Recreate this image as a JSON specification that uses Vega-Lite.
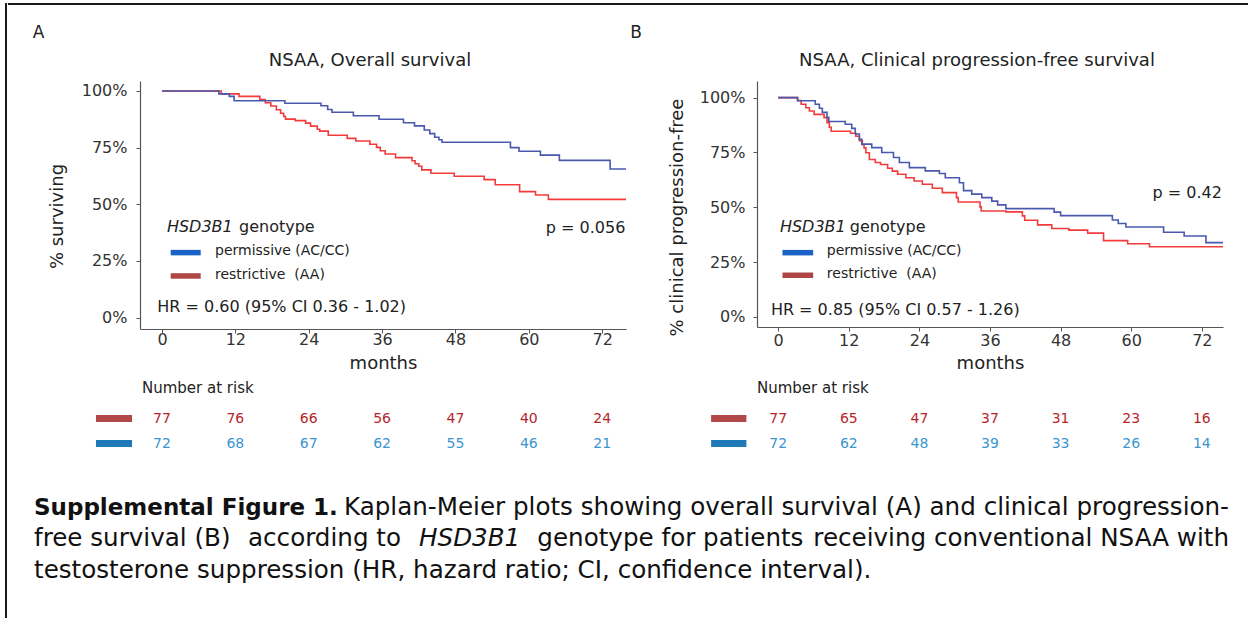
{
  "$schema": "https://vega.github.io/schema/vega-lite/v6.json",
  "padding": {"left": 5, "top": 3, "right": 0, "bottom": 0},
  "background": "white",
  "config": {
    "font": "DejaVu Sans",
    "view": {"stroke": null},
    "axis": {"grid": false, "domainColor": "#555", "tickColor": "#555", "domainWidth": 1.2, "tickWidth": 1, "labelColor": "#333", "titleColor": "#222", "labelFont": "DejaVu Sans", "titleFont": "DejaVu Sans", "titleFontWeight": "normal", "labelFontSize": 16, "titleFontSize": 18, "labelFlush": false, "labelOverlap": false},
    "title": {"font": "DejaVu Sans", "fontWeight": "normal", "color": "#222"},
    "text": {"font": "DejaVu Sans"}
  },
  "datasets": {
    "km": [
      {"panel": "A", "genotype": "permissive", "month": 0, "surv": 100},
      {"panel": "A", "genotype": "permissive", "month": 9.3, "surv": 98.7},
      {"panel": "A", "genotype": "permissive", "month": 11.0, "surv": 97.6},
      {"panel": "A", "genotype": "permissive", "month": 11.8, "surv": 95.7},
      {"panel": "A", "genotype": "permissive", "month": 20.1, "surv": 94.6},
      {"panel": "A", "genotype": "permissive", "month": 26.0, "surv": 93.5},
      {"panel": "A", "genotype": "permissive", "month": 27.1, "surv": 91.8},
      {"panel": "A", "genotype": "permissive", "month": 27.8, "surv": 90.6},
      {"panel": "A", "genotype": "permissive", "month": 31.3, "surv": 89.1},
      {"panel": "A", "genotype": "permissive", "month": 35.5, "surv": 87.5},
      {"panel": "A", "genotype": "permissive", "month": 39.5, "surv": 86.0},
      {"panel": "A", "genotype": "permissive", "month": 41.3, "surv": 84.6},
      {"panel": "A", "genotype": "permissive", "month": 42.9, "surv": 82.8},
      {"panel": "A", "genotype": "permissive", "month": 43.8, "surv": 81.2},
      {"panel": "A", "genotype": "permissive", "month": 44.6, "surv": 79.6},
      {"panel": "A", "genotype": "permissive", "month": 45.3, "surv": 78.5},
      {"panel": "A", "genotype": "permissive", "month": 45.8, "surv": 77.4},
      {"panel": "A", "genotype": "permissive", "month": 57.0, "surv": 75.0},
      {"panel": "A", "genotype": "permissive", "month": 58.4, "surv": 73.4},
      {"panel": "A", "genotype": "permissive", "month": 61.9, "surv": 71.7},
      {"panel": "A", "genotype": "permissive", "month": 65.0, "surv": 69.4},
      {"panel": "A", "genotype": "permissive", "month": 73.3, "surv": 65.6},
      {"panel": "A", "genotype": "permissive", "month": 75.9, "surv": 65.6},
      {"panel": "A", "genotype": "restrictive", "month": 0, "surv": 100},
      {"panel": "A", "genotype": "restrictive", "month": 9.7, "surv": 98.7},
      {"panel": "A", "genotype": "restrictive", "month": 12.6, "surv": 97.6},
      {"panel": "A", "genotype": "restrictive", "month": 16.0, "surv": 96.2},
      {"panel": "A", "genotype": "restrictive", "month": 16.9, "surv": 94.8},
      {"panel": "A", "genotype": "restrictive", "month": 17.8, "surv": 93.4},
      {"panel": "A", "genotype": "restrictive", "month": 18.7, "surv": 91.7},
      {"panel": "A", "genotype": "restrictive", "month": 19.4, "surv": 90.2},
      {"panel": "A", "genotype": "restrictive", "month": 19.9, "surv": 88.8},
      {"panel": "A", "genotype": "restrictive", "month": 20.2, "surv": 87.6},
      {"panel": "A", "genotype": "restrictive", "month": 21.8, "surv": 86.9},
      {"panel": "A", "genotype": "restrictive", "month": 23.5, "surv": 85.8},
      {"panel": "A", "genotype": "restrictive", "month": 24.3, "surv": 84.5},
      {"panel": "A", "genotype": "restrictive", "month": 25.4, "surv": 83.1},
      {"panel": "A", "genotype": "restrictive", "month": 25.8, "surv": 82.3},
      {"panel": "A", "genotype": "restrictive", "month": 27.2, "surv": 80.5},
      {"panel": "A", "genotype": "restrictive", "month": 30.3, "surv": 79.1},
      {"panel": "A", "genotype": "restrictive", "month": 31.7, "surv": 77.9},
      {"panel": "A", "genotype": "restrictive", "month": 34.0, "surv": 76.5},
      {"panel": "A", "genotype": "restrictive", "month": 35.1, "surv": 75.1},
      {"panel": "A", "genotype": "restrictive", "month": 35.7, "surv": 73.6},
      {"panel": "A", "genotype": "restrictive", "month": 36.5, "surv": 72.2},
      {"panel": "A", "genotype": "restrictive", "month": 38.2, "surv": 70.6},
      {"panel": "A", "genotype": "restrictive", "month": 40.9, "surv": 69.2},
      {"panel": "A", "genotype": "restrictive", "month": 41.4, "surv": 67.9},
      {"panel": "A", "genotype": "restrictive", "month": 42.0, "surv": 66.8},
      {"panel": "A", "genotype": "restrictive", "month": 42.5, "surv": 65.2},
      {"panel": "A", "genotype": "restrictive", "month": 44.0, "surv": 63.7},
      {"panel": "A", "genotype": "restrictive", "month": 47.8, "surv": 62.4},
      {"panel": "A", "genotype": "restrictive", "month": 52.7, "surv": 60.9},
      {"panel": "A", "genotype": "restrictive", "month": 54.5, "surv": 58.6},
      {"panel": "A", "genotype": "restrictive", "month": 58.5, "surv": 55.6},
      {"panel": "A", "genotype": "restrictive", "month": 61.1, "surv": 54.1},
      {"panel": "A", "genotype": "restrictive", "month": 63.2, "surv": 52.2},
      {"panel": "A", "genotype": "restrictive", "month": 75.9, "surv": 52.2},
      {"panel": "B", "genotype": "permissive", "month": 0, "surv": 100},
      {"panel": "B", "genotype": "permissive", "month": 3.3, "surv": 98.6},
      {"panel": "B", "genotype": "permissive", "month": 6.3, "surv": 97.0},
      {"panel": "B", "genotype": "permissive", "month": 7.0, "surv": 95.2},
      {"panel": "B", "genotype": "permissive", "month": 7.5, "surv": 93.3},
      {"panel": "B", "genotype": "permissive", "month": 8.3, "surv": 91.0},
      {"panel": "B", "genotype": "permissive", "month": 8.6, "surv": 89.1},
      {"panel": "B", "genotype": "permissive", "month": 11.4, "surv": 87.9},
      {"panel": "B", "genotype": "permissive", "month": 12.5, "surv": 86.0},
      {"panel": "B", "genotype": "permissive", "month": 13.1, "surv": 83.4},
      {"panel": "B", "genotype": "permissive", "month": 13.8, "surv": 81.0},
      {"panel": "B", "genotype": "permissive", "month": 14.2, "surv": 78.8},
      {"panel": "B", "genotype": "permissive", "month": 15.9, "surv": 77.2},
      {"panel": "B", "genotype": "permissive", "month": 17.6, "surv": 75.0},
      {"panel": "B", "genotype": "permissive", "month": 19.6, "surv": 72.7},
      {"panel": "B", "genotype": "permissive", "month": 20.6, "surv": 70.4},
      {"panel": "B", "genotype": "permissive", "month": 22.3, "surv": 68.1},
      {"panel": "B", "genotype": "permissive", "month": 25.0, "surv": 66.6},
      {"panel": "B", "genotype": "permissive", "month": 27.4, "surv": 65.4},
      {"panel": "B", "genotype": "permissive", "month": 28.4, "surv": 63.5},
      {"panel": "B", "genotype": "permissive", "month": 30.8, "surv": 61.2},
      {"panel": "B", "genotype": "permissive", "month": 31.5, "surv": 57.6},
      {"panel": "B", "genotype": "permissive", "month": 32.9, "surv": 56.0},
      {"panel": "B", "genotype": "permissive", "month": 34.6, "surv": 54.4},
      {"panel": "B", "genotype": "permissive", "month": 36.3, "surv": 52.8},
      {"panel": "B", "genotype": "permissive", "month": 37.3, "surv": 51.1},
      {"panel": "B", "genotype": "permissive", "month": 38.7, "surv": 49.4},
      {"panel": "B", "genotype": "permissive", "month": 46.9, "surv": 47.8},
      {"panel": "B", "genotype": "permissive", "month": 48.0, "surv": 46.2},
      {"panel": "B", "genotype": "permissive", "month": 56.8, "surv": 44.2},
      {"panel": "B", "genotype": "permissive", "month": 57.8, "surv": 42.6},
      {"panel": "B", "genotype": "permissive", "month": 59.1, "surv": 41.0},
      {"panel": "B", "genotype": "permissive", "month": 65.5, "surv": 38.6},
      {"panel": "B", "genotype": "permissive", "month": 69.0, "surv": 36.9},
      {"panel": "B", "genotype": "permissive", "month": 72.7, "surv": 33.9},
      {"panel": "B", "genotype": "permissive", "month": 75.6, "surv": 33.9},
      {"panel": "B", "genotype": "restrictive", "month": 0, "surv": 100},
      {"panel": "B", "genotype": "restrictive", "month": 3.3, "surv": 98.7},
      {"panel": "B", "genotype": "restrictive", "month": 3.9, "surv": 97.0},
      {"panel": "B", "genotype": "restrictive", "month": 4.7, "surv": 95.4},
      {"panel": "B", "genotype": "restrictive", "month": 5.3, "surv": 93.9},
      {"panel": "B", "genotype": "restrictive", "month": 6.1, "surv": 92.4},
      {"panel": "B", "genotype": "restrictive", "month": 7.8, "surv": 90.9},
      {"panel": "B", "genotype": "restrictive", "month": 8.3, "surv": 88.6},
      {"panel": "B", "genotype": "restrictive", "month": 8.7, "surv": 86.5},
      {"panel": "B", "genotype": "restrictive", "month": 9.0, "surv": 84.7},
      {"panel": "B", "genotype": "restrictive", "month": 12.3, "surv": 83.8},
      {"panel": "B", "genotype": "restrictive", "month": 13.2, "surv": 82.4},
      {"panel": "B", "genotype": "restrictive", "month": 13.8, "surv": 80.4},
      {"panel": "B", "genotype": "restrictive", "month": 14.3, "surv": 78.5},
      {"panel": "B", "genotype": "restrictive", "month": 14.6, "surv": 77.1},
      {"panel": "B", "genotype": "restrictive", "month": 14.9, "surv": 74.9},
      {"panel": "B", "genotype": "restrictive", "month": 15.5, "surv": 71.8},
      {"panel": "B", "genotype": "restrictive", "month": 16.5, "surv": 70.4},
      {"panel": "B", "genotype": "restrictive", "month": 17.4, "surv": 69.5},
      {"panel": "B", "genotype": "restrictive", "month": 18.6, "surv": 67.8},
      {"panel": "B", "genotype": "restrictive", "month": 19.4, "surv": 66.5},
      {"panel": "B", "genotype": "restrictive", "month": 20.3, "surv": 65.1},
      {"panel": "B", "genotype": "restrictive", "month": 21.7, "surv": 63.5},
      {"panel": "B", "genotype": "restrictive", "month": 23.1, "surv": 62.0},
      {"panel": "B", "genotype": "restrictive", "month": 24.5, "surv": 60.5},
      {"panel": "B", "genotype": "restrictive", "month": 26.2, "surv": 58.7},
      {"panel": "B", "genotype": "restrictive", "month": 27.9, "surv": 56.7},
      {"panel": "B", "genotype": "restrictive", "month": 30.3, "surv": 54.4},
      {"panel": "B", "genotype": "restrictive", "month": 30.6, "surv": 52.4},
      {"panel": "B", "genotype": "restrictive", "month": 34.3, "surv": 50.2},
      {"panel": "B", "genotype": "restrictive", "month": 34.5, "surv": 48.3},
      {"panel": "B", "genotype": "restrictive", "month": 38.7, "surv": 47.9},
      {"panel": "B", "genotype": "restrictive", "month": 41.5, "surv": 46.1},
      {"panel": "B", "genotype": "restrictive", "month": 41.9, "surv": 44.1},
      {"panel": "B", "genotype": "restrictive", "month": 44.1, "surv": 42.0},
      {"panel": "B", "genotype": "restrictive", "month": 46.5, "surv": 40.3},
      {"panel": "B", "genotype": "restrictive", "month": 49.4, "surv": 39.6},
      {"panel": "B", "genotype": "restrictive", "month": 52.6, "surv": 38.2},
      {"panel": "B", "genotype": "restrictive", "month": 55.3, "surv": 34.8},
      {"panel": "B", "genotype": "restrictive", "month": 59.4, "surv": 33.4},
      {"panel": "B", "genotype": "restrictive", "month": 63.1, "surv": 32.0},
      {"panel": "B", "genotype": "restrictive", "month": 75.6, "surv": 32.0}
    ],
    "risk": [
      {"panel": "A", "genotype": "restrictive", "month": 0, "n": 77},
      {"panel": "A", "genotype": "restrictive", "month": 12, "n": 76},
      {"panel": "A", "genotype": "restrictive", "month": 24, "n": 66},
      {"panel": "A", "genotype": "restrictive", "month": 36, "n": 56},
      {"panel": "A", "genotype": "restrictive", "month": 48, "n": 47},
      {"panel": "A", "genotype": "restrictive", "month": 60, "n": 40},
      {"panel": "A", "genotype": "restrictive", "month": 72, "n": 24},
      {"panel": "A", "genotype": "permissive", "month": 0, "n": 72},
      {"panel": "A", "genotype": "permissive", "month": 12, "n": 68},
      {"panel": "A", "genotype": "permissive", "month": 24, "n": 67},
      {"panel": "A", "genotype": "permissive", "month": 36, "n": 62},
      {"panel": "A", "genotype": "permissive", "month": 48, "n": 55},
      {"panel": "A", "genotype": "permissive", "month": 60, "n": 46},
      {"panel": "A", "genotype": "permissive", "month": 72, "n": 21},
      {"panel": "B", "genotype": "restrictive", "month": 0, "n": 77},
      {"panel": "B", "genotype": "restrictive", "month": 12, "n": 65},
      {"panel": "B", "genotype": "restrictive", "month": 24, "n": 47},
      {"panel": "B", "genotype": "restrictive", "month": 36, "n": 37},
      {"panel": "B", "genotype": "restrictive", "month": 48, "n": 31},
      {"panel": "B", "genotype": "restrictive", "month": 60, "n": 23},
      {"panel": "B", "genotype": "restrictive", "month": 72, "n": 16},
      {"panel": "B", "genotype": "permissive", "month": 0, "n": 72},
      {"panel": "B", "genotype": "permissive", "month": 12, "n": 62},
      {"panel": "B", "genotype": "permissive", "month": 24, "n": 48},
      {"panel": "B", "genotype": "permissive", "month": 36, "n": 39},
      {"panel": "B", "genotype": "permissive", "month": 48, "n": 33},
      {"panel": "B", "genotype": "permissive", "month": 60, "n": 26},
      {"panel": "B", "genotype": "permissive", "month": 72, "n": 14}
    ]
  },
  "spacing": 0,
  "hconcat": [
    {"width": 0.01, "height": 614, "view": {"stroke": "#1a1a1a", "strokeWidth": 2}, "data": {"values": []}, "mark": {"type": "rule"}, "encoding": {}},
    {
      "spacing": 17,
      "vconcat": [
        {"width": 1240, "height": 0.01, "view": {"stroke": "#1a1a1a", "strokeWidth": 2}, "data": {"values": []}, "mark": {"type": "rule"}, "encoding": {}},
        {
          "spacing": 36,
          "vconcat": [
            {
              "spacing": 0,
              "hconcat": [
                {"width": 23, "height": 1, "data": {"values": []}, "mark": {"type": "rule"}, "encoding": {}},
                {
                  "spacing": 0,
                  "hconcat": [
                    {
                      "title": {"text": "A", "anchor": "start", "frame": "bounds", "dx": -15.5, "offset": -3.2, "fontSize": 17, "baseline": "alphabetic"},
                      "spacing": 9,
                      "vconcat": [
                        {
                          "width": 486, "height": 248,
                          "title": {"text": "NSAA, Overall survival", "fontSize": 18, "anchor": "middle", "frame": "group", "dx": -13, "offset": -2.5, "baseline": "alphabetic"},
                          "layer": [
                            {"data": {"name": "km"}, "transform": [{"filter": "datum.panel == 'A' && datum.genotype == 'restrictive'"}], "mark": {"type": "line", "interpolate": "step-after", "color": "#f23b3b", "strokeWidth": 1.6},
                             "encoding": {
                               "x": {"field": "month", "type": "quantitative", "scale": {"domain": [-3.6, 75.9], "nice": false, "zero": false}, "axis": {"values": [0, 12, 24, 36, 48, 60, 72], "title": "months", "tickSize": 4, "labelPadding": -2, "titlePadding": 7}},
                               "y": {"field": "surv", "type": "quantitative", "scale": {"domain": [-5, 104.4], "nice": false, "zero": false}, "axis": {"values": [0, 25, 50, 75, 100], "labelExpr": "datum.value + '%'", "title": "% surviving", "tickSize": 4, "labelPadding": 9, "titlePadding": 15, "titleY": 135}}
                             }},
                            {"data": {"name": "km"}, "transform": [{"filter": "datum.panel == 'A' && datum.genotype == 'permissive'"}], "mark": {"type": "line", "interpolate": "step-after", "color": "#4a58ad", "strokeWidth": 1.6},
                             "encoding": {
                               "x": {"field": "month", "type": "quantitative", "scale": {"domain": [-3.6, 75.9], "nice": false, "zero": false}},
                               "y": {"field": "surv", "type": "quantitative", "scale": {"domain": [-5, 104.4], "nice": false, "zero": false}}
                             }},
                            {"data": {"values": [{}]}, "mark": {"type": "text", "text": "HSD3B1", "fontStyle": "italic", "fontSize": 16, "align": "left", "baseline": "middle", "color": "#222"}, "encoding": {"x": {"datum": 0.8, "type": "quantitative", "scale": {"domain": [-3.6, 75.9], "nice": false, "zero": false}}, "y": {"datum": 40.0, "type": "quantitative", "scale": {"domain": [-5, 104.4], "nice": false, "zero": false}}}},
                            {"data": {"values": [{}]}, "mark": {"type": "text", "text": "genotype", "fontSize": 16, "align": "left", "baseline": "middle", "color": "#222"}, "encoding": {"x": {"datum": 12.6, "type": "quantitative", "scale": {"domain": [-3.6, 75.9], "nice": false, "zero": false}}, "y": {"datum": 40.0, "type": "quantitative", "scale": {"domain": [-5, 104.4], "nice": false, "zero": false}}}},
                            {"data": {"values": [{}]}, "mark": {"type": "rule", "strokeWidth": 5.5, "color": "#1b62c6", "strokeCap": "butt"}, "encoding": {"x": {"datum": 1.42, "type": "quantitative", "scale": {"domain": [-3.6, 75.9], "nice": false, "zero": false}}, "x2": {"datum": 6.33}, "y": {"datum": 28.7, "type": "quantitative", "scale": {"domain": [-5, 104.4], "nice": false, "zero": false}}}},
                            {"data": {"values": [{}]}, "mark": {"type": "rule", "strokeWidth": 5.5, "color": "#b04545", "strokeCap": "butt"}, "encoding": {"x": {"datum": 1.42, "type": "quantitative", "scale": {"domain": [-3.6, 75.9], "nice": false, "zero": false}}, "x2": {"datum": 6.33}, "y": {"datum": 18.4, "type": "quantitative", "scale": {"domain": [-5, 104.4], "nice": false, "zero": false}}}},
                            {"data": {"values": [{}]}, "mark": {"type": "text", "text": "permissive (AC/CC)", "fontSize": 14, "align": "left", "baseline": "middle", "color": "#222"}, "encoding": {"x": {"datum": 8.67, "type": "quantitative", "scale": {"domain": [-3.6, 75.9], "nice": false, "zero": false}}, "y": {"datum": 29.4, "type": "quantitative", "scale": {"domain": [-5, 104.4], "nice": false, "zero": false}}}},
                            {"data": {"values": [{}]}, "mark": {"type": "text", "text": "restrictive\u00a0 (AA)", "fontSize": 14, "align": "left", "baseline": "middle", "color": "#222"}, "encoding": {"x": {"datum": 8.67, "type": "quantitative", "scale": {"domain": [-3.6, 75.9], "nice": false, "zero": false}}, "y": {"datum": 18.8, "type": "quantitative", "scale": {"domain": [-5, 104.4], "nice": false, "zero": false}}}},
                            {"data": {"values": [{}]}, "mark": {"type": "text", "text": "HR = 0.60 (95% CI 0.36 - 1.02)", "fontSize": 16, "align": "left", "baseline": "middle", "color": "#222"}, "encoding": {"x": {"datum": -0.77, "type": "quantitative", "scale": {"domain": [-3.6, 75.9], "nice": false, "zero": false}}, "y": {"datum": 4.7, "type": "quantitative", "scale": {"domain": [-5, 104.4], "nice": false, "zero": false}}}},
                            {"data": {"values": [{}]}, "mark": {"type": "text", "text": "p = 0.056", "fontSize": 16, "align": "right", "baseline": "middle", "color": "#222"}, "encoding": {"x": {"datum": 75.8, "type": "quantitative", "scale": {"domain": [-3.6, 75.9], "nice": false, "zero": false}}, "y": {"datum": 39.4, "type": "quantitative", "scale": {"domain": [-5, 104.4], "nice": false, "zero": false}}}}
                          ]
                        },
                        {
                          "width": 486, "height": 50,
                          "title": {"text": "Number at risk", "anchor": "start", "frame": "group", "dx": 2, "offset": -2, "fontSize": 15, "baseline": "alphabetic"},
                          "layer": [
                            {"data": {"name": "risk"}, "transform": [{"filter": "datum.panel == 'A'"}], "mark": {"type": "text", "fontSize": 14, "baseline": "middle"},
                             "encoding": {
                               "x": {"field": "month", "type": "quantitative", "scale": {"domain": [-3.6, 75.9], "nice": false, "zero": false}, "axis": null},
                               "y": {"field": "genotype", "type": "nominal", "scale": {"domain": ["restrictive", "permissive"]}, "axis": null},
                               "text": {"field": "n"},
                               "color": {"field": "genotype", "type": "nominal", "scale": {"domain": ["restrictive", "permissive"], "range": ["#b5262b", "#3b95cf"]}, "legend": null}
                             }},
                            {"data": {"values": [{}]}, "mark": {"type": "rule", "strokeWidth": 7, "color": "#b24848", "strokeCap": "butt"}, "encoding": {"x": {"datum": -10.8, "type": "quantitative", "scale": {"domain": [-3.6, 75.9], "nice": false, "zero": false}, "axis": null}, "x2": {"datum": -4.9}, "y": {"datum": "restrictive", "type": "nominal", "scale": {"domain": ["restrictive", "permissive"]}, "axis": null}}},
                            {"data": {"values": [{}]}, "mark": {"type": "rule", "strokeWidth": 7, "color": "#1f78b8", "strokeCap": "butt"}, "encoding": {"x": {"datum": -10.8, "type": "quantitative", "scale": {"domain": [-3.6, 75.9], "nice": false, "zero": false}, "axis": null}, "x2": {"datum": -4.9}, "y": {"datum": "permissive", "type": "nominal", "scale": {"domain": ["restrictive", "permissive"]}, "axis": null}}}
                          ]
                        }
                      ]
                    },
                    {
                      "title": {"text": "B", "anchor": "start", "frame": "bounds", "dx": -38, "offset": -3.2, "fontSize": 17, "baseline": "alphabetic"},
                      "spacing": 9,
                      "vconcat": [
                        {
                          "width": 466, "height": 246,
                          "title": {"text": "NSAA, Clinical progression-free survival", "fontSize": 18, "anchor": "middle", "frame": "group", "dx": -13, "offset": -2.5, "baseline": "alphabetic"},
                          "layer": [
                            {"data": {"name": "km"}, "transform": [{"filter": "datum.panel == 'B' && datum.genotype == 'restrictive'"}], "mark": {"type": "line", "interpolate": "step-after", "color": "#f23b3b", "strokeWidth": 1.6},
                             "encoding": {
                               "x": {"field": "month", "type": "quantitative", "scale": {"domain": [-3.6, 75.6], "nice": false, "zero": false}, "axis": {"values": [0, 12, 24, 36, 48, 60, 72], "title": "months", "tickSize": 4, "labelPadding": 1.5, "titlePadding": 5.5}},
                               "y": {"field": "surv", "type": "quantitative", "scale": {"domain": [-4.6, 107.6], "nice": false, "zero": false}, "axis": {"values": [0, 25, 50, 75, 100], "labelExpr": "datum.value + '%'", "title": "% clinical progression-free", "titleFontSize": 18, "tickSize": 4, "labelPadding": 8, "titlePadding": 13, "titleY": 136}}
                             }},
                            {"data": {"name": "km"}, "transform": [{"filter": "datum.panel == 'B' && datum.genotype == 'permissive'"}], "mark": {"type": "line", "interpolate": "step-after", "color": "#4a58ad", "strokeWidth": 1.6},
                             "encoding": {
                               "x": {"field": "month", "type": "quantitative", "scale": {"domain": [-3.6, 75.6], "nice": false, "zero": false}},
                               "y": {"field": "surv", "type": "quantitative", "scale": {"domain": [-4.6, 107.6], "nice": false, "zero": false}}
                             }},
                            {"data": {"values": [{}]}, "mark": {"type": "text", "text": "HSD3B1", "fontStyle": "italic", "fontSize": 16, "align": "left", "baseline": "middle", "color": "#222"}, "encoding": {"x": {"datum": 0.29, "type": "quantitative", "scale": {"domain": [-3.6, 75.6], "nice": false, "zero": false}}, "y": {"datum": 41.2, "type": "quantitative", "scale": {"domain": [-4.6, 107.6], "nice": false, "zero": false}}}},
                            {"data": {"values": [{}]}, "mark": {"type": "text", "text": "genotype", "fontSize": 16, "align": "left", "baseline": "middle", "color": "#222"}, "encoding": {"x": {"datum": 12.18, "type": "quantitative", "scale": {"domain": [-3.6, 75.6], "nice": false, "zero": false}}, "y": {"datum": 41.2, "type": "quantitative", "scale": {"domain": [-4.6, 107.6], "nice": false, "zero": false}}}},
                            {"data": {"values": [{}]}, "mark": {"type": "rule", "strokeWidth": 5.5, "color": "#1b62c6", "strokeCap": "butt"}, "encoding": {"x": {"datum": 0.73, "type": "quantitative", "scale": {"domain": [-3.6, 75.6], "nice": false, "zero": false}}, "x2": {"datum": 5.95}, "y": {"datum": 29.3, "type": "quantitative", "scale": {"domain": [-4.6, 107.6], "nice": false, "zero": false}}}},
                            {"data": {"values": [{}]}, "mark": {"type": "rule", "strokeWidth": 5.5, "color": "#b04545", "strokeCap": "butt"}, "encoding": {"x": {"datum": 0.73, "type": "quantitative", "scale": {"domain": [-3.6, 75.6], "nice": false, "zero": false}}, "x2": {"datum": 5.95}, "y": {"datum": 19.0, "type": "quantitative", "scale": {"domain": [-4.6, 107.6], "nice": false, "zero": false}}}},
                            {"data": {"values": [{}]}, "mark": {"type": "text", "text": "permissive (AC/CC)", "fontSize": 14, "align": "left", "baseline": "middle", "color": "#222"}, "encoding": {"x": {"datum": 8.27, "type": "quantitative", "scale": {"domain": [-3.6, 75.6], "nice": false, "zero": false}}, "y": {"datum": 30.1, "type": "quantitative", "scale": {"domain": [-4.6, 107.6], "nice": false, "zero": false}}}},
                            {"data": {"values": [{}]}, "mark": {"type": "text", "text": "restrictive\u00a0 (AA)", "fontSize": 14, "align": "left", "baseline": "middle", "color": "#222"}, "encoding": {"x": {"datum": 8.27, "type": "quantitative", "scale": {"domain": [-3.6, 75.6], "nice": false, "zero": false}}, "y": {"datum": 19.8, "type": "quantitative", "scale": {"domain": [-4.6, 107.6], "nice": false, "zero": false}}}},
                            {"data": {"values": [{}]}, "mark": {"type": "text", "text": "HR = 0.85 (95% CI 0.57 - 1.26)", "fontSize": 16, "align": "left", "baseline": "middle", "color": "#222"}, "encoding": {"x": {"datum": -1.24, "type": "quantitative", "scale": {"domain": [-3.6, 75.6], "nice": false, "zero": false}}, "y": {"datum": 3.1, "type": "quantitative", "scale": {"domain": [-4.6, 107.6], "nice": false, "zero": false}}}},
                            {"data": {"values": [{}]}, "mark": {"type": "text", "text": "p = 0.42", "fontSize": 16, "align": "right", "baseline": "middle", "color": "#222"}, "encoding": {"x": {"datum": 75.4, "type": "quantitative", "scale": {"domain": [-3.6, 75.6], "nice": false, "zero": false}}, "y": {"datum": 56.7, "type": "quantitative", "scale": {"domain": [-4.6, 107.6], "nice": false, "zero": false}}}}
                          ]
                        },
                        {
                          "width": 466, "height": 50,
                          "title": {"text": "Number at risk", "anchor": "start", "frame": "group", "dx": 0, "offset": -2, "fontSize": 15, "baseline": "alphabetic"},
                          "layer": [
                            {"data": {"name": "risk"}, "transform": [{"filter": "datum.panel == 'B'"}], "mark": {"type": "text", "fontSize": 14, "baseline": "middle"},
                             "encoding": {
                               "x": {"field": "month", "type": "quantitative", "scale": {"domain": [-3.6, 75.6], "nice": false, "zero": false}, "axis": null},
                               "y": {"field": "genotype", "type": "nominal", "scale": {"domain": ["restrictive", "permissive"]}, "axis": null},
                               "text": {"field": "n"},
                               "color": {"field": "genotype", "type": "nominal", "scale": {"domain": ["restrictive", "permissive"], "range": ["#b5262b", "#3b95cf"]}, "legend": null}
                             }},
                            {"data": {"values": [{}]}, "mark": {"type": "rule", "strokeWidth": 7, "color": "#b24848", "strokeCap": "butt"}, "encoding": {"x": {"datum": -11.4, "type": "quantitative", "scale": {"domain": [-3.6, 75.6], "nice": false, "zero": false}, "axis": null}, "x2": {"datum": -5.4}, "y": {"datum": "restrictive", "type": "nominal", "scale": {"domain": ["restrictive", "permissive"]}, "axis": null}}},
                            {"data": {"values": [{}]}, "mark": {"type": "rule", "strokeWidth": 7, "color": "#1f78b8", "strokeCap": "butt"}, "encoding": {"x": {"datum": -11.4, "type": "quantitative", "scale": {"domain": [-3.6, 75.6], "nice": false, "zero": false}, "axis": null}, "x2": {"datum": -5.4}, "y": {"datum": "permissive", "type": "nominal", "scale": {"domain": ["restrictive", "permissive"]}, "axis": null}}}
                          ]
                        }
                      ]
                    }
                  ]
                }
              ]
            },
            {
              "spacing": 0,
              "hconcat": [
                {"width": 25, "height": 1, "data": {"values": []}, "mark": {"type": "rule"}, "encoding": {}},
                {
                  "width": 1195, "height": 94.5,
                  "encoding": {
                    "x": {"datum": 0, "type": "quantitative", "scale": {"domain": [0, 100], "nice": false, "zero": false}, "axis": null},
                    "y": {"datum": 0.5, "type": "quantitative", "scale": {"domain": [0, 3], "reverse": true, "nice": false}, "axis": null}
                  },
                  "layer": [
                    {"data": {"values": [{}]}, "mark": {"type": "text", "text": "Supplemental Figure 1.", "fontWeight": "bold", "fontSize": 23, "align": "left", "baseline": "middle", "color": "#111"}},
                    {"data": {"values": [{}]}, "mark": {"type": "text", "text": "Kaplan-Meier plots showing overall survival (A) and clinical progression-", "fontSize": 24.6, "align": "right", "baseline": "middle", "color": "#111"}, "encoding": {"x": {"datum": 100, "type": "quantitative", "axis": null}}},
                    {"data": {"values": [{}]}, "mark": {"type": "text", "text": "free survival (B)", "fontSize": 24.6, "align": "left", "baseline": "middle", "color": "#111"}, "encoding": {"y": {"datum": 1.5, "type": "quantitative", "axis": null}}},
                    {"data": {"values": [{}]}, "mark": {"type": "text", "text": "according to", "fontSize": 24.6, "align": "left", "baseline": "middle", "color": "#111"}, "encoding": {"x": {"datum": 17.91, "type": "quantitative", "axis": null}, "y": {"datum": 1.5, "type": "quantitative", "axis": null}}},
                    {"data": {"values": [{}]}, "mark": {"type": "text", "text": "HSD3B1", "fontStyle": "italic", "fontSize": 24.6, "align": "left", "baseline": "middle", "color": "#111"}, "encoding": {"x": {"datum": 32.22, "type": "quantitative", "axis": null}, "y": {"datum": 1.5, "type": "quantitative", "axis": null}}},
                    {"data": {"values": [{}]}, "mark": {"type": "text", "text": "genotype for patients", "fontSize": 24.6, "align": "left", "baseline": "middle", "color": "#111"}, "encoding": {"x": {"datum": 42.12, "type": "quantitative", "axis": null}, "y": {"datum": 1.5, "type": "quantitative", "axis": null}}},
                    {"data": {"values": [{}]}, "mark": {"type": "text", "text": "receiving conventional NSAA with", "fontSize": 24.6, "align": "right", "baseline": "middle", "color": "#111"}, "encoding": {"x": {"datum": 100, "type": "quantitative", "axis": null}, "y": {"datum": 1.5, "type": "quantitative", "axis": null}}},
                    {"data": {"values": [{}]}, "mark": {"type": "text", "text": "testosterone suppression (HR, hazard ratio; CI, confidence interval).", "fontSize": 24.6, "align": "left", "baseline": "middle", "color": "#111"}, "encoding": {"y": {"datum": 2.5, "type": "quantitative", "axis": null}}}
                  ]
                }
              ]
            }
          ]
        }
      ]
    }
  ]
}
